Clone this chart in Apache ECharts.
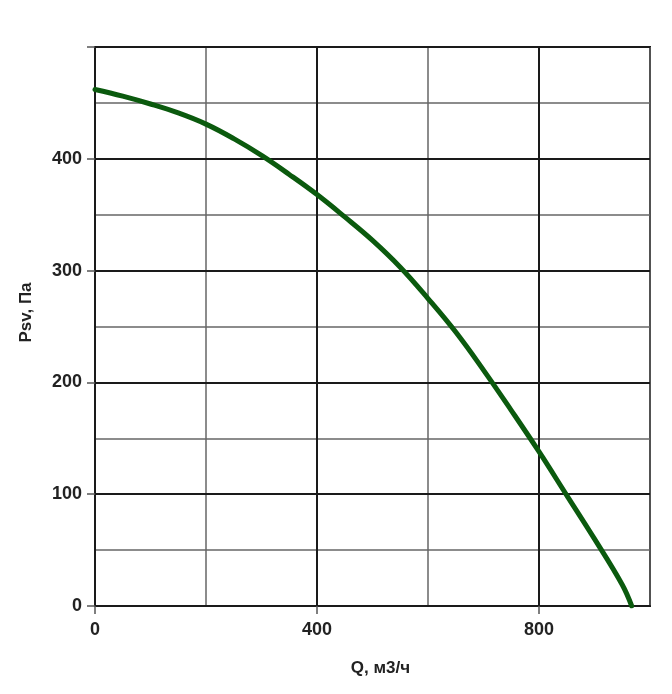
<!DOCTYPE html>
<html>
<head>
<meta charset="utf-8">
<script src="https://cdn.jsdelivr.net/npm/echarts@6/dist/echarts.min.js"></script>
<style>
  html, body { margin: 0; padding: 0; background: #fff; }
  #chart { width: 672px; height: 694px; }
</style>
</head>
<body>
<div id="chart"></div>
<script>
// расход Q, м3/ч
var qValues = [0, 50, 100, 150, 200, 250, 300, 350, 400, 450, 500, 550, 600, 650, 700, 750, 800, 850, 900, 950, 967];
// давление Psv, Па
var psvValues = [462, 456, 449, 441, 431, 418, 403, 386, 368, 348, 327, 303, 275, 245, 211, 175, 138, 99, 60, 19, 0];

// подписи осей
var xTickValues = [0, 400, 800];
var yTickValues = [0, 100, 200, 300, 400];
var yTickMarks = [0, 100, 200, 300, 400, 500];

var chart = echarts.init(document.getElementById('chart'));

var labelStyle = {
  color: '#222',
  fontSize: 18,
  fontWeight: 'bold',
  fontFamily: 'Liberation Sans, Arial, sans-serif'
};

var option = {
  backgroundColor: '#fff',
  animation: false,
  grid: {
    left: 95,
    right: 22,
    top: 47,
    bottom: 88,
    show: true,
    borderColor: '#1a1a1a',
    borderWidth: 2,
    backgroundColor: 'transparent'
  },
  xAxis: [{
    type: 'value',
    min: 0,
    max: 1000,
    interval: 400,
    z: 2,
    name: 'Q, м3/ч',
    nameLocation: 'middle',
    nameGap: 54,
    nameTextStyle: Object.assign({}, labelStyle, { fontSize: 17, padding: [0, 0, 0, 16] }),
    axisLine: { show: true, lineStyle: { color: '#1a1a1a', width: 2 } },
    axisTick: { show: true, length: 8, customValues: xTickValues, lineStyle: { color: '#555', width: 1.5 } },
    axisLabel: Object.assign({ margin: 15, customValues: xTickValues }, labelStyle),
    splitLine: { show: true, lineStyle: { color: '#1a1a1a', width: 2 } }
  }, {
    // тонкая сетка
    type: 'value',
    min: 0,
    max: 1000,
    interval: 200,
    z: 1,
    axisLine: { show: false },
    axisTick: { show: false },
    axisLabel: { show: false },
    splitLine: { show: true, lineStyle: { color: '#666', width: 1.5 } }
  }],
  yAxis: [{
    type: 'value',
    min: 0,
    max: 500,
    interval: 100,
    z: 2,
    name: 'Psv, Па',
    nameLocation: 'middle',
    nameGap: 60,
    nameTextStyle: Object.assign({}, labelStyle, { fontSize: 17, padding: [0, 0, 0, 28] }),
    axisLine: { show: true, lineStyle: { color: '#1a1a1a', width: 2 } },
    axisTick: { show: true, length: 8, customValues: yTickMarks, lineStyle: { color: '#555', width: 1.5 } },
    axisLabel: Object.assign({ margin: 13, customValues: yTickValues }, labelStyle),
    splitLine: { show: true, lineStyle: { color: '#1a1a1a', width: 2 } }
  }, {
    type: 'value',
    min: 0,
    max: 500,
    interval: 50,
    z: 1,
    axisLine: { show: false },
    axisTick: { show: false },
    axisLabel: { show: false },
    splitLine: { show: true, lineStyle: { color: '#666', width: 1.5 } }
  }],
  series: [{
    type: 'line',
    xAxisIndex: 0,
    yAxisIndex: 0,
    z: 5,
    smooth: 0.4,
    symbol: 'none',
    lineStyle: { color: '#0b5a0e', width: 5, cap: 'round' },
    data: qValues.map(function (q, i) { return [q, psvValues[i]]; })
  }]
};

chart.setOption(option);
</script>
</body>
</html>
